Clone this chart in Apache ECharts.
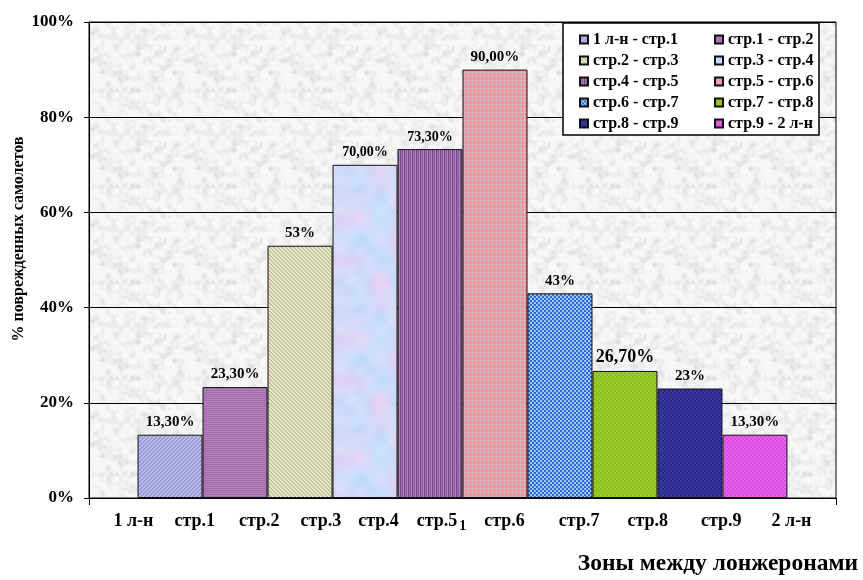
<!DOCTYPE html>
<html>
<head>
<meta charset="utf-8">
<script src="https://cdn.jsdelivr.net/npm/echarts@6/dist/echarts.min.js"></script>
<style>
  html, body { margin: 0; padding: 0; background: #fff; }
  #chart { width: 863px; height: 580px; }
</style>
</head>
<body>
<div id="chart"></div>
<script>
// Spar positions along the wing; each bar covers the zone between two neighbours
const zones = ['1 л-н', 'стр.1', 'стр.2', 'стр.3', 'стр.4', 'стр.5', 'стр.6', 'стр.7', 'стр.8', 'стр.9', '2 л-н'];
// Share of damaged aircraft per zone, %
const damagePct = [13.3, 23.3, 53, 70, 73.3, 90, 43, 26.7, 23, 13.3];
// Decimal places shown in each value label
const labelDecimals = [2, 2, 0, 2, 2, 2, 0, 2, 0, 2];
// Y axis scale
const yMin = 0, yMax = 100, yStep = 20;

// ---- presentation ----
const FONT = "'Liberation Serif', 'Times New Roman', serif";
const labelFontSizes = [15, 15, 15, 14, 14, 15, 15, 18, 15, 15];
const zoneLabelGaps = [0, 21, 24, 21, 17, 18, 18, 34, 28, 33, 30];

function hash(x, y) {
  let n = Math.imul(x, 374761393) + Math.imul(y, 668265263);
  n = Math.imul(n ^ (n >>> 13), 1274126177);
  n = n ^ (n >>> 16);
  return (n & 0xffff) / 65535;
}
function valueNoise(x, y, cell, size) {
  const cells = size / cell;
  const gx = x / cell, gy = y / cell;
  const x0 = Math.floor(gx), y0 = Math.floor(gy);
  const fx = gx - x0, fy = gy - y0;
  const sx = fx * fx * (3 - 2 * fx), sy = fy * fy * (3 - 2 * fy);
  const w = (a) => ((a % cells) + cells) % cells;
  const a = hash(w(x0), w(y0)), b = hash(w(x0 + 1), w(y0));
  const c = hash(w(x0), w(y0 + 1)), d = hash(w(x0 + 1), w(y0 + 1));
  return (a + (b - a) * sx) + ((c + (d - c) * sx) - (a + (b - a) * sx)) * sy;
}
function pattern(w, h, fn) {
  const cv = document.createElement('canvas');
  cv.width = w; cv.height = h;
  const ctx = cv.getContext('2d');
  const img = ctx.createImageData(w, h);
  for (let y = 0; y < h; y++) {
    for (let x = 0; x < w; x++) {
      const c = fn(x, y);
      const i = (y * w + x) * 4;
      img.data[i] = c[0]; img.data[i + 1] = c[1]; img.data[i + 2] = c[2]; img.data[i + 3] = 255;
    }
  }
  ctx.putImageData(img, 0, 0);
  return { image: cv, repeat: 'repeat' };
}
const checker = (x, y) => ((x >> 1) + (y >> 1)) % 2;

// Granite-like plot background
const granite = pattern(96, 96, (x, y) => {
  const v = 0.6 * valueNoise(x, y, 6, 96) + 0.4 * valueNoise(x, y, 3, 96);
  const g = Math.round(247 - Math.max(0, v - 0.42) * 50);
  return [g, g, g];
});

const fills = [
  pattern(4, 4, (x, y) => ((x + y) % 4 < 2 ? [150, 150, 228] : [192, 192, 222])),
  pattern(2, 2, (x, y) => (y % 2 ? [178, 128, 186] : [162, 110, 172])),
  pattern(4, 4, (x, y) => (((x - y + 40) % 4) < 2 ? [236, 236, 214] : [194, 194, 148])),
  pattern(120, 120, (x, y) => {
    const m = Math.pow(valueNoise(x, y, 20, 120), 1.6);
    const l = valueNoise(x, y, 10, 120);
    const r = 188 + (236 - 188) * m, g = 218 + (198 - 218) * m, b = 250 + (242 - 250) * m;
    const k = 0.3 * l;
    return [r + (248 - r) * k, g + (250 - g) * k, b + (255 - b) * k].map(Math.round);
  }),
  pattern(4, 1, (x) => [[118, 70, 140], [160, 112, 176], [138, 90, 158], [178, 132, 192]][x]),
  pattern(4, 4, (x, y) => ((x % 4 === 0 || y % 4 === 0) ? [214, 178, 190] : [240, 150, 154])),
  pattern(4, 4, (x, y) => (checker(x, y) ? [44, 108, 212] : [158, 198, 240])),
  pattern(4, 4, (x, y) => (checker(x, y) ? [154, 204, 44] : [136, 190, 30])),
  pattern(4, 4, (x, y) => (checker(x, y) ? [40, 40, 138] : [58, 58, 160])),
  pattern(4, 4, (x, y) => (checker(x, y) ? [234, 98, 234] : [214, 78, 220]))
];

const seriesNames = damagePct.map((_, i) => zones[i] + ' - ' + zones[i + 1]);

function formatPct(v, d) {
  return v.toFixed(d).replace('.', ',') + '%';
}

// Rich text for the single category label: zone names spaced out under the bars
const zoneRich = {};
zones.forEach((z, i) => {
  zoneRich['z' + i] = {
    fontFamily: FONT, fontWeight: 'bold', fontSize: 18, color: '#000',
    lineHeight: 24, padding: [0, 0, 0, zoneLabelGaps[i]]
  };
});
zoneRich.sub = {
  fontFamily: FONT, fontWeight: 'bold', fontSize: 14, color: '#000',
  lineHeight: 14, verticalAlign: 'bottom', padding: [0, 0, 0, 2]
};
function zoneLabel() {
  return zones.map((z, i) => '{z' + i + '|' + z + '}' + (i === 5 ? '{sub|1}' : '')).join('');
}

const series = damagePct.map((v, i) => ({
  name: seriesNames[i],
  type: 'bar',
  data: [v],
  barGap: '0%',
  barCategoryGap: '13%',
  itemStyle: { color: fills[i], borderColor: '#111', borderWidth: 1 },
  label: {
    show: true, position: 'top', distance: 5,
    fontFamily: FONT, fontWeight: 'bold', fontSize: labelFontSizes[i], color: '#000',
    formatter: () => formatPct(v, labelDecimals[i])
  },
  emphasis: { disabled: true }
}));

const legendCommon = {
  orient: 'vertical',
  icon: 'rect',
  itemWidth: 8,
  itemHeight: 8,
  itemGap: 4,
  selectedMode: false,
  textStyle: { fontFamily: FONT, fontWeight: 'bold', fontSize: 16, color: '#000', lineHeight: 17 },
  top: 26
};

const chart = echarts.init(document.getElementById('chart'), null, { renderer: 'canvas' });
chart.setOption({
  animation: false,
  backgroundColor: '#fff',
  grid: {
    left: 89, right: 27, top: 22, bottom: 82,
    containLabel: false, outerBoundsMode: 'none',
    show: true, backgroundColor: granite, borderColor: '#000', borderWidth: 1
  },
  title: {
    text: 'Зоны между лонжеронами',
    right: 0, top: 547,
    textStyle: { fontFamily: FONT, fontWeight: 'bold', fontSize: 23.5, color: '#000' }
  },
  graphic: [{
    type: 'rect', z: 3,
    shape: { x: 563, y: 23, width: 256, height: 112 },
    style: { fill: '#fff', stroke: '#000', lineWidth: 1.5 }
  }],
  legend: [
    Object.assign({ left: 574, data: seriesNames.filter((_, i) => i % 2 === 0) }, legendCommon),
    Object.assign({ left: 709, data: seriesNames.filter((_, i) => i % 2 === 1) }, legendCommon)
  ],
  xAxis: {
    type: 'category',
    data: [zones.join(' ')],
    axisLine: { lineStyle: { color: '#000', width: 1 } },
    axisTick: { show: true, length: 7, lineStyle: { color: '#000' } },
    axisLabel: { margin: 11, formatter: zoneLabel, rich: zoneRich }
  },
  yAxis: {
    type: 'value',
    min: yMin, max: yMax, interval: yStep,
    name: '% поврежденных самолетов',
    nameLocation: 'middle',
    nameGap: 62,
    nameMoveOverlap: false,
    nameRotate: 90,
    nameTextStyle: { fontFamily: FONT, fontWeight: 'bold', fontSize: 16, color: '#000', padding: [0, 0, 0, 42] },
    axisLine: { show: true, lineStyle: { color: '#000' } },
    axisTick: { show: true, length: 5, lineStyle: { color: '#000' } },
    axisLabel: {
      margin: 15, formatter: '{value}%',
      fontFamily: FONT, fontWeight: 'bold', fontSize: 17, color: '#000'
    },
    splitLine: { show: true, lineStyle: { color: '#000', width: 1 } }
  },
  series: series
});
</script>
</body>
</html>
